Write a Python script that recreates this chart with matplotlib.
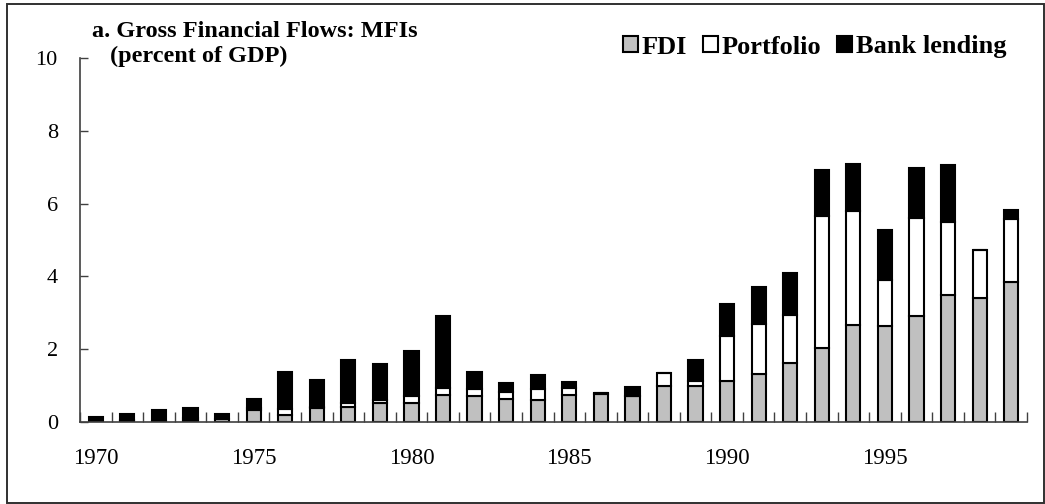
import matplotlib
matplotlib.use("Agg")
import matplotlib.pyplot as plt
from matplotlib.patches import Rectangle
import numpy as np

years = list(range(1970, 2000))
fdi = [0.00, 0.02, 0.03, 0.06, 0.07, 0.34, 0.20, 0.38, 0.40, 0.52,
       0.53, 0.73, 0.72, 0.63, 0.60, 0.75, 0.78, 0.71, 1.00, 1.00,
       1.12, 1.31, 1.63, 2.02, 2.66, 2.63, 2.91, 3.49, 3.41, 3.84]
portfolio = [0.00, 0.03, 0.00, 0.06, 0.02, 0.05, 0.17, 0.04, 0.12, 0.09,
             0.18, 0.20, 0.19, 0.19, 0.30, 0.18, 0.02, 0.00, 0.35, 0.13,
             1.25, 1.39, 1.32, 3.63, 3.14, 1.27, 2.69, 2.00, 1.31, 1.75]
bank = [0.15, 0.16, 0.31, 0.27, 0.14, 0.23, 0.99, 0.73, 1.19, 0.97,
        1.24, 1.97, 0.47, 0.26, 0.40, 0.18, 0.00, 0.24, 0.00, 0.58,
        0.88, 1.01, 1.14, 1.28, 1.30, 1.37, 1.38, 1.57, 0.00, 0.23]
label_years = [1970, 1975, 1980, 1985, 1990, 1995]
yticks = [0, 2, 4, 6, 8, 10]

W, H = 1045, 504
fig = plt.figure(figsize=(W / 100, H / 100), dpi=100)
ax = fig.add_axes([80 / W, (H - 422) / H, (1027 - 80) / W, (422 - 58) / H])

serif = ["Liberation Serif", "DejaVu Serif"]

x = np.arange(len(years))
fdi_a = np.array(fdi)
port_a = np.array(portfolio)
bank_a = np.array(bank)
bw = 0.45
lw = 1.5
b1 = ax.bar(x, fdi_a, bw, color="#c0c0c0", edgecolor="black", linewidth=lw, label="FDI")
b2 = ax.bar(x, port_a, bw, bottom=fdi_a, color="white", edgecolor="black", linewidth=lw, label="Portfolio")
b3 = ax.bar(x, bank_a, bw, bottom=fdi_a + port_a, color="black", edgecolor="black", linewidth=lw, label="Bank lending")

ax.set_xlim(-0.5, len(years) - 0.5)
ax.set_ylim(0, 10)

# y axis
ax.set_yticks(yticks)
ax.set_yticklabels([str(v) for v in yticks], fontfamily=serif, fontsize=16)
ax.tick_params(axis="y", direction="in", length=6, width=1, color="#404040", pad=16)

# x axis: ticks between categories, labels under bar centres
ax.set_xticks(np.arange(len(years) + 1) - 0.5)
ax.set_xticklabels([])
ax.tick_params(axis="x", which="major", direction="in", length=7, width=1, color="#404040")
lab_pos = [years.index(y) for y in label_years]
ax.set_xticks(lab_pos, minor=True)
ax.set_xticklabels([str(y) for y in label_years], minor=True, fontfamily=serif, fontsize=16.5)
ax.tick_params(axis="x", which="minor", length=0, pad=19)

for s in ["top", "right"]:
    ax.spines[s].set_visible(False)
for s in ["left", "bottom"]:
    ax.spines[s].set_color("#404040")
    ax.spines[s].set_linewidth(1.2)

# title
fig.text(92 / W, 1 - 37 / H, "a. Gross Financial Flows: MFIs", fontfamily=serif,
         fontweight="bold", fontsize=17.5, va="baseline", ha="left")
fig.text(110 / W, 1 - 62 / H, "(percent of GDP)", fontfamily=serif,
         fontweight="bold", fontsize=17.5, va="baseline", ha="left")

# legend
leg = fig.legend(handles=[b1, b2, b3], labels=["FDI", "Portfolio", "Bank lending"],
                 loc="center right", bbox_to_anchor=(1006 / W, 1 - 47 / H),
                 ncol=3, frameon=False, borderpad=0, borderaxespad=0,
                 handlelength=0.55, handleheight=0.52, handletextpad=0.15,
                 columnspacing=0.6, prop={"family": serif, "weight": "bold", "size": 19})

# outer frame
fig.patches.append(Rectangle((7 / W, 1.5 / H), 1 - 7 / W - 1 / W, 1 - 5.5 / H,
                             transform=fig.transFigure, fill=False,
                             edgecolor="#303030", linewidth=1.4))

fig.savefig("out.png", dpi=100)
